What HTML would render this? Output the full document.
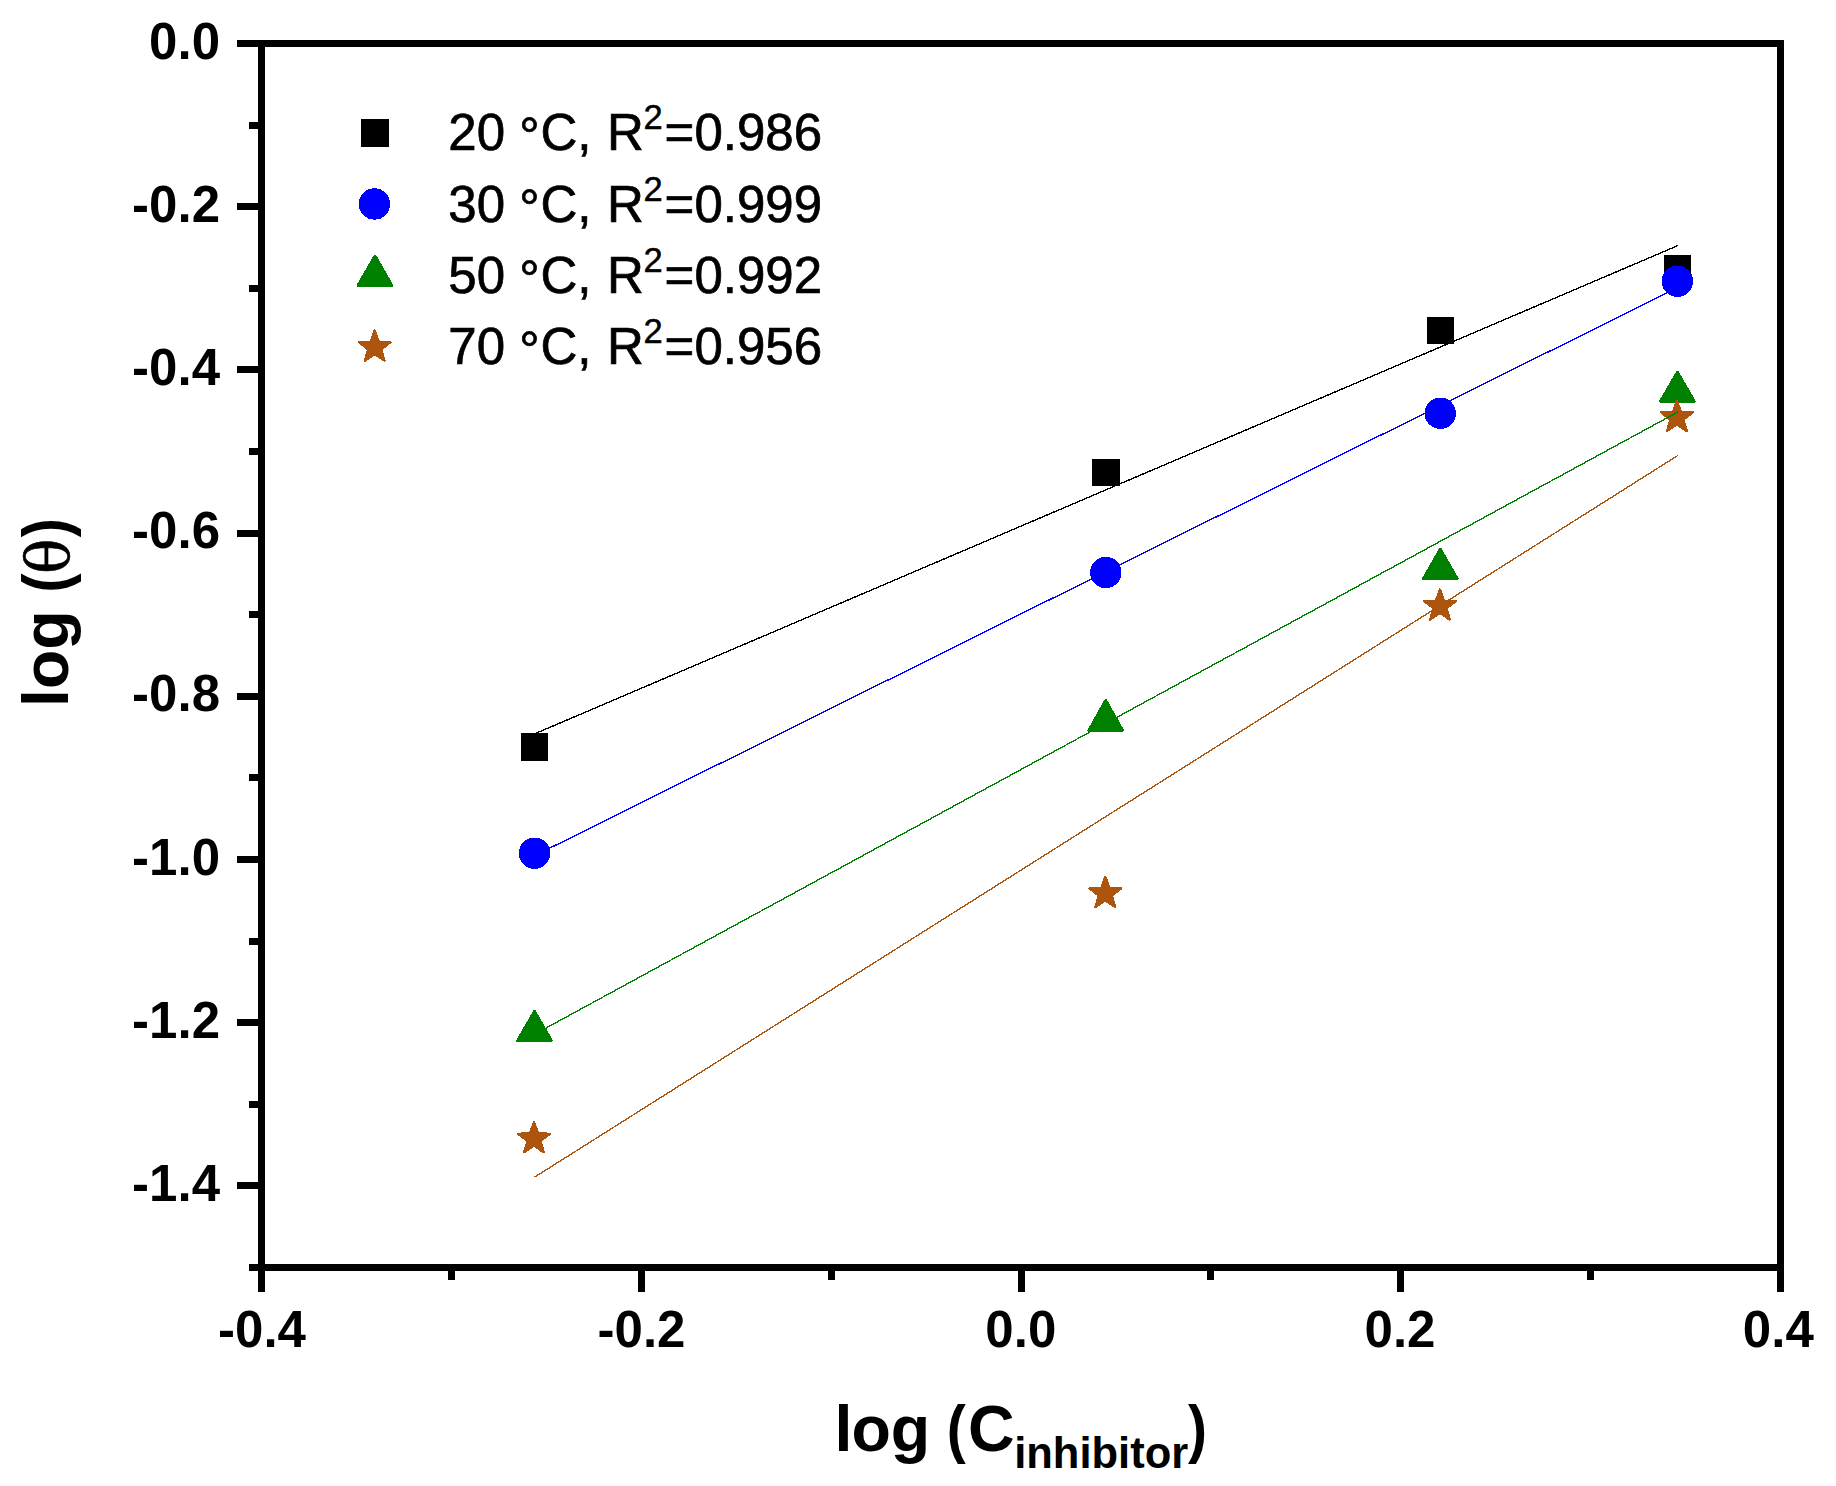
<!DOCTYPE html>
<html lang="en"><head><meta charset="utf-8"><title>log (θ) vs log (C inhibitor)</title>
<style>html,body{margin:0;padding:0;background:#fff;}body{width:1836px;height:1486px;overflow:hidden;}svg{display:block;}text{font-family:"Liberation Sans",Arial,Helvetica,sans-serif;fill:#000;}.tk{font-size:51px;font-weight:bold;}.lg{font-size:51px;stroke:#000;stroke-width:0.7px;}.sup{font-size:34.5px;stroke:#000;stroke-width:0.5px;}.ti{font-size:64.5px;font-weight:bold;}.sub{font-size:43.5px;font-weight:bold;}.th{font-family:"DejaVu Serif","Liberation Serif",serif;font-size:59px;stroke:#000;stroke-width:0.6px;}</style></head><body>
<svg width="1836" height="1486" viewBox="0 0 1836 1486">
<rect x="0" y="0" width="1836" height="1486" fill="#fff"/>
<g shape-rendering="crispEdges">
<rect x="521" y="733" width="27" height="28" fill="#000"/>
<rect x="1092" y="459" width="28" height="27" fill="#000"/>
<rect x="1427" y="317" width="27" height="27" fill="#000"/>
<rect x="1664" y="255" width="27" height="28" fill="#000"/>
<circle cx="534.5" cy="853.3" r="15.7" fill="#0000ff"/>
<circle cx="1105.7" cy="572.5" r="15.7" fill="#0000ff"/>
<circle cx="1440.3" cy="413.3" r="15.7" fill="#0000ff"/>
<circle cx="1677.4" cy="281.3" r="15.7" fill="#0000ff"/>
<polygon points="534.5,1011.4 551.3,1040.6 517.7,1040.6" fill="#008000" stroke="#008000" stroke-width="3.0" stroke-linejoin="round"/>
<polygon points="1105.7,700.4 1122.5,730.5 1088.9,730.5" fill="#008000" stroke="#008000" stroke-width="3.0" stroke-linejoin="round"/>
<polygon points="1440.3,549.3 1457.1,578.7 1423.5,578.7" fill="#008000" stroke="#008000" stroke-width="3.0" stroke-linejoin="round"/>
<polygon points="1677.4,372.3 1694.2,401.3 1660.6,401.3" fill="#008000" stroke="#008000" stroke-width="3.0" stroke-linejoin="round"/>
<polygon points="534.0,1122.3 538.0,1133.4 549.8,1133.8 540.4,1141.0 543.8,1152.3 534.0,1145.7 524.2,1152.3 527.6,1141.0 518.2,1133.8 530.0,1133.4" fill="#AE550D" stroke="#AE550D" stroke-width="2.4" stroke-linejoin="round"/>
<polygon points="1105.3,876.9 1109.3,888.0 1121.1,888.4 1111.7,895.6 1115.1,906.9 1105.3,900.3 1095.5,906.9 1098.9,895.6 1089.5,888.4 1101.3,888.0" fill="#AE550D" stroke="#AE550D" stroke-width="2.4" stroke-linejoin="round"/>
<polygon points="1440.0,589.6 1444.0,600.7 1455.8,601.1 1446.4,608.3 1449.8,619.6 1440.0,613.0 1430.2,619.6 1433.6,608.3 1424.2,601.1 1436.0,600.7" fill="#AE550D" stroke="#AE550D" stroke-width="2.4" stroke-linejoin="round"/>
<polygon points="1676.9,400.9 1680.9,412.0 1692.7,412.4 1683.3,419.6 1686.7,430.9 1676.9,424.3 1667.1,430.9 1670.5,419.6 1661.1,412.4 1672.9,412.0" fill="#AE550D" stroke="#AE550D" stroke-width="2.4" stroke-linejoin="round"/>
<line x1="534.5" y1="733.9" x2="1677.8" y2="245.6" stroke="#000" stroke-width="1.35"/>
<line x1="534.5" y1="855.7" x2="1677.8" y2="287.5" stroke="#0000ff" stroke-width="1.35"/>
<line x1="534.5" y1="1034.3" x2="1677.8" y2="412.0" stroke="#008000" stroke-width="1.35"/>
<line x1="534.5" y1="1177.2" x2="1677.8" y2="455.5" stroke="#AE550D" stroke-width="1.35"/>
<rect x="237" y="40" width="1547" height="7" fill="#000"/>
<rect x="249" y="1264" width="1535" height="7" fill="#000"/>
<rect x="258" y="40" width="7" height="1252" fill="#000"/>
<rect x="1777" y="40" width="7" height="1252" fill="#000"/>
<rect x="237" y="40" width="22" height="7" fill="#000"/>
<rect x="249" y="122" width="10" height="7" fill="#000"/>
<rect x="237" y="203" width="22" height="7" fill="#000"/>
<rect x="249" y="285" width="10" height="7" fill="#000"/>
<rect x="237" y="366" width="22" height="7" fill="#000"/>
<rect x="249" y="448" width="10" height="7" fill="#000"/>
<rect x="237" y="530" width="22" height="7" fill="#000"/>
<rect x="249" y="611" width="10" height="7" fill="#000"/>
<rect x="237" y="693" width="22" height="7" fill="#000"/>
<rect x="249" y="774" width="10" height="7" fill="#000"/>
<rect x="237" y="856" width="22" height="7" fill="#000"/>
<rect x="249" y="938" width="10" height="7" fill="#000"/>
<rect x="237" y="1019" width="22" height="7" fill="#000"/>
<rect x="249" y="1101" width="10" height="7" fill="#000"/>
<rect x="237" y="1182" width="22" height="7" fill="#000"/>
<rect x="249" y="1264" width="10" height="7" fill="#000"/>
<rect x="258" y="1270" width="7" height="22" fill="#000"/>
<rect x="448" y="1270" width="7" height="10" fill="#000"/>
<rect x="638" y="1270" width="7" height="22" fill="#000"/>
<rect x="828" y="1270" width="7" height="10" fill="#000"/>
<rect x="1018" y="1270" width="7" height="22" fill="#000"/>
<rect x="1207" y="1270" width="7" height="10" fill="#000"/>
<rect x="1397" y="1270" width="7" height="22" fill="#000"/>
<rect x="1587" y="1270" width="7" height="10" fill="#000"/>
<rect x="1777" y="1270" width="7" height="22" fill="#000"/>
<rect x="361.0" y="119.0" width="28" height="28" fill="#000"/>
<circle cx="374.5" cy="204.0" r="15.7" fill="#0000ff"/>
<polygon points="375.0,256.0 391.8,285.3 358.2,285.3" fill="#008000" stroke="#008000" stroke-width="3.0" stroke-linejoin="round"/>
<polygon points="374.7,330.7 378.7,341.8 390.5,342.2 381.1,349.4 384.5,360.7 374.7,354.1 364.9,360.7 368.3,349.4 358.9,342.2 370.7,341.8" fill="#AE550D" stroke="#AE550D" stroke-width="2.4" stroke-linejoin="round"/>
</g>
<text class="tk" x="220" y="58.5" text-anchor="end">0.0</text>
<text class="tk" x="220" y="221.7" text-anchor="end">-0.2</text>
<text class="tk" x="220" y="384.9" text-anchor="end">-0.4</text>
<text class="tk" x="220" y="548.1" text-anchor="end">-0.6</text>
<text class="tk" x="220" y="711.3" text-anchor="end">-0.8</text>
<text class="tk" x="220" y="874.5" text-anchor="end">-1.0</text>
<text class="tk" x="220" y="1037.7" text-anchor="end">-1.2</text>
<text class="tk" x="220" y="1200.9" text-anchor="end">-1.4</text>
<text class="tk" x="262.0" y="1347.2" text-anchor="middle">-0.4</text>
<text class="tk" x="641.5" y="1347.2" text-anchor="middle">-0.2</text>
<text class="tk" x="1020.8" y="1347.2" text-anchor="middle">0.0</text>
<text class="tk" x="1400.0" y="1347.2" text-anchor="middle">0.2</text>
<text class="tk" x="1778.3" y="1347.2" text-anchor="middle">0.4</text>
<text class="lg" x="448.3" y="150.0">20 <tspan dy="4">°</tspan><tspan dy="-4" dx="0.8">C, </tspan><tspan dx="1.5">R</tspan></text>
<text class="sup" x="643.6" y="129.2">2</text>
<text class="lg" x="664.6" y="150.0">=0.986</text>
<text class="lg" x="448.3" y="221.5">30 <tspan dy="4">°</tspan><tspan dy="-4" dx="0.8">C, </tspan><tspan dx="1.5">R</tspan></text>
<text class="sup" x="643.6" y="200.7">2</text>
<text class="lg" x="664.6" y="221.5">=0.999</text>
<text class="lg" x="448.3" y="292.5">50 <tspan dy="4">°</tspan><tspan dy="-4" dx="0.8">C, </tspan><tspan dx="1.5">R</tspan></text>
<text class="sup" x="643.6" y="271.7">2</text>
<text class="lg" x="664.6" y="292.5">=0.992</text>
<text class="lg" x="448.3" y="364.0">70 <tspan dy="4">°</tspan><tspan dy="-4" dx="0.8">C, </tspan><tspan dx="1.5">R</tspan></text>
<text class="sup" x="643.6" y="343.2">2</text>
<text class="lg" x="664.6" y="364.0">=0.956</text>
<text class="ti" x="834.5" y="1451.2">l</text>
<text class="ti" x="851.4" y="1451.2">og</text>
<text class="ti" x="946.8" y="1451.2" textLength="19" lengthAdjust="spacingAndGlyphs">(</text>
<text class="ti" x="968" y="1451.2">C</text>
<text class="sub" x="1014.2" y="1467.8">inhibitor</text>
<text class="ti" x="1188" y="1451.2" textLength="19" lengthAdjust="spacingAndGlyphs">)</text>
<g transform="translate(68.2,0) rotate(-90)">
<text class="ti" x="-707" y="0">log</text>
<text class="ti" x="-592.6" y="0" textLength="19" lengthAdjust="spacingAndGlyphs">(</text>
<text class="th" x="-573.9" y="0.9">θ</text>
<text class="ti" x="-537.3" y="0" textLength="19" lengthAdjust="spacingAndGlyphs">)</text>
</g>
</svg></body></html>
